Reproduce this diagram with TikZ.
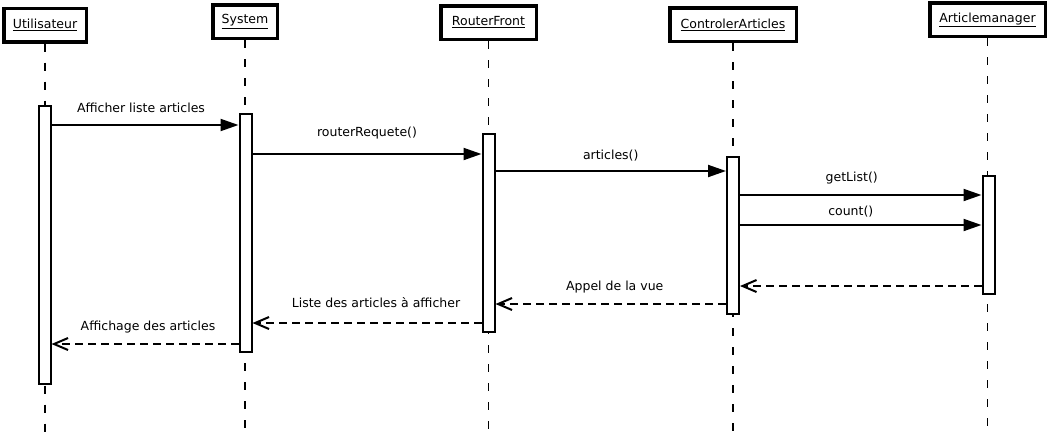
\documentclass[tikz,border=0pt]{standalone}
\usepackage{fontspec}
\setmainfont{DejaVu Sans}
\usetikzlibrary{arrows.meta}
\begin{document}
\begin{tikzpicture}[x=1pt,y=-1pt,
 every node/.style={font=\fontsize{12.5}{15}\selectfont},
 head/.style={draw, line width=3.5pt, fill=white, minimum height=33.5pt, inner sep=0pt},
 bar/.style={draw, line width=2pt, fill=white, minimum width=12pt, inner sep=0pt},
 life/.style={line width=1.1pt, dash pattern=on 8pt off 11pt},
 call/.style={line width=2pt, -{Triangle[length=18pt,width=12pt]}},
 ret/.style={line width=2pt, dash pattern=on 8pt off 5pt, -{Straight Barb[length=14pt,width=12pt]}},
 lbl/.style={midway, yshift=17pt, inner sep=0pt}]
\useasboundingbox (0,0) rectangle (1051,434);
% heads
\node[head, minimum width=82.5pt] (hu) at (45,25) {\underline{Utilisateur}};
\node[head, minimum width=64.5pt] (hs) at (245,21.5) {\underline{System}};
\node[head, minimum width=95.5pt] (hr) at (488.5,22.5) {\underline{RouterFront}};
\node[head, minimum width=126.5pt] (hc) at (733,24.5) {\underline{ControlerArticles}};
\node[head, minimum width=115.5pt] (ha) at (987.5,19.8) {\underline{Articlemanager}};
% lifelines
\foreach \h in {hu,hs,hr,hc,ha}
  \draw[life] (\h.south) -- (\h.south |- 0,434);
% activation bars
\node[bar, minimum height=278pt] (u1) at (44.5,245) {};
\node[bar, minimum height=238pt] (s1) at (245.5,233) {};
\node[bar, minimum height=198pt] (r1) at (488.5,233) {};
\node[bar, minimum height=157pt] (c1) at (733,235.5) {};
\node[bar, minimum height=118pt] (a1) at (988.5,235) {};
% messages
\draw[call] (u1.east |- 0,125) -- (s1.west |- 0,125) node[lbl, xshift=-4pt]{Afficher liste articles};
\draw[call] (s1.east |- 0,154) -- (r1.west |- 0,154) node[lbl, yshift=4pt]{routerRequete()};
\draw[call] (r1.east |- 0,171) -- (c1.west |- 0,171) node[lbl, yshift=-2pt]{articles()};
\draw[call] (c1.east |- 0,195) -- (a1.west |- 0,195) node[lbl, xshift=-9pt]{getList()};
\draw[call] (c1.east |- 0,225) -- (a1.west |- 0,225) node[lbl, xshift=-10pt, yshift=-4pt]{count()};
\draw[ret] (a1.west |- 0,286) -- (c1.east |- 0,286);
\draw[ret] (c1.west |- 0,304) -- (r1.east |- 0,304) node[lbl, xshift=4pt]{Appel de la vue};
\draw[ret] (r1.west |- 0,323) -- (s1.east |- 0,323) node[lbl, xshift=9pt, yshift=3pt]{Liste des articles à afficher};
\draw[ret] (s1.west |- 0,344) -- (u1.east |- 0,344) node[lbl, xshift=3pt]{Affichage des articles};
\end{tikzpicture}
\end{document}
